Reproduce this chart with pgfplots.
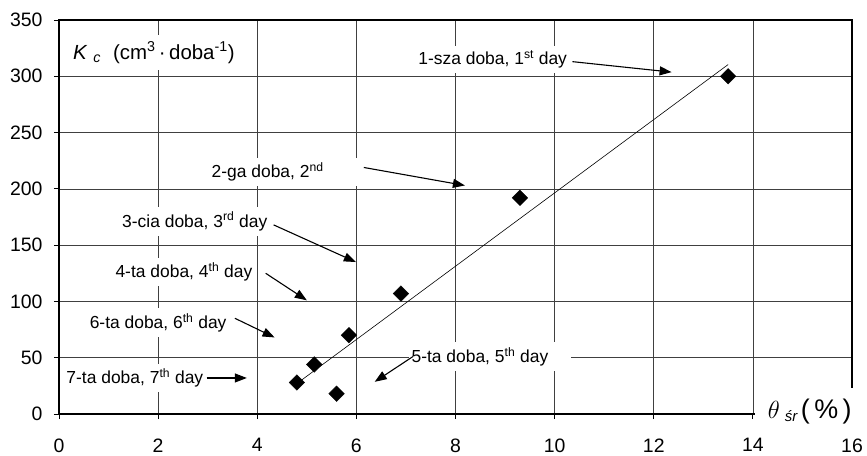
\documentclass[border=0pt]{standalone}
\usepackage{fontspec}
\setmainfont{Liberation Sans}
\usepackage{pgfplots}
\pgfplotsset{compat=1.18}
\usetikzlibrary{arrows.meta}
\tikzset{
  annot/.style={fill=white, inner xsep=3pt, inner ysep=5pt, font=\fontsize{17.5}{20}\selectfont},
  arr/.style={-{Triangle[length=12bp,width=9bp]}, line width=1.1pt},
}

\begin{document}
\begin{tikzpicture}
\begin{axis}[
  scale only axis,
  width=793bp, height=394bp,
  xmin=0, xmax=16, ymin=0, ymax=350,
  xtick={0,2,...,16}, ytick={0,50,...,350},
  grid=major,
  major grid style={black!75, line width=0.7pt},
  axis line style={black, line width=1.1pt},
  tick style={black, line width=0.8pt},
  tick align=outside,
  tick pos=left,
  major tick length=5bp,
  /pgf/number format/assume math mode=true,
  ticklabel style={font=\fontsize{19.5}{22}\selectfont},
  xticklabel style={yshift=-16bp},
  yticklabel style={xshift=-8bp},
  clip=false,
]
\addplot[black, line width=0.6pt, no marks] coordinates {(4.85,28.7) (13.5,310.4)};
\addplot[only marks, mark=square*, mark size=5.5bp, mark options={rotate=45, fill=black, draw=black}] coordinates {
(4.8,28) (5.15,44) (5.6,18) (5.85,70) (6.9,107) (9.3,192) (13.5,300)};

\node[anchor=west, fill=white, inner xsep=0pt, inner ysep=7pt, font=\fontsize{20.5}{23}\selectfont] at (axis cs:0.28,321)
  {\textit{K}\hspace{6bp}\textsubscript{\textit{c}}\hspace{12bp}(cm\textsuperscript{3}\,·\,doba\textsuperscript{-1})\hspace*{22bp}};

\node[fill=white, inner sep=0pt, minimum width=107bp, minimum height=44bp] at (axis cs:15.12,3.55) {};
\node[anchor=west, inner sep=0pt] at (axis cs:14.3,2)
  {\fontsize{28}{30}\selectfont$\theta$\hspace{5bp}\raisebox{-0.2ex}{\fontsize{15}{17}\selectfont\textit{śr}}\hspace{3bp}\fontsize{27}{29}\selectfont(\,\%\,)};

\node[annot] at (axis cs:8.75,315) {1-sza doba, 1\textsuperscript{st} day};
\draw[arr] (axis cs:10.36,313) -- (axis cs:12.36,303.7);

\node[annot, minimum width=200bp] at (axis cs:4.21,215) {2-ga doba, 2\textsuperscript{nd}};
\draw[arr] (axis cs:6.15,219) -- (axis cs:8.19,203);

\node[annot] at (axis cs:2.74,171) {3-cia doba, 3\textsuperscript{rd} day};
\draw[arr] (axis cs:4.33,168) -- (axis cs:5.99,135);

\node[annot] at (axis cs:2.52,126) {4-ta doba, 4\textsuperscript{th} day};
\draw[arr] (axis cs:4.17,125) -- (axis cs:5.0,101);

\node[annot] at (axis cs:2.0,81) {6-ta doba, 6\textsuperscript{th} day};
\draw[arr] (axis cs:3.55,85) -- (axis cs:4.35,68);

\node[annot] at (axis cs:1.53,32) {7-ta doba, 7\textsuperscript{th} day};
\draw[arr] (axis cs:2.98,32) -- (axis cs:3.79,32);

\node[annot, anchor=west] at (axis cs:7.05,51) {5-ta doba, 5\textsuperscript{th} day\hspace*{20bp}};
\draw[arr] (axis cs:7.14,51) -- (axis cs:6.37,28.6);
\end{axis}
\path ([shift={(-59bp,-42bp)}]current axis.south west) rectangle ([shift={(15bp,20bp)}]current axis.north east);
\end{tikzpicture}
\end{document}
